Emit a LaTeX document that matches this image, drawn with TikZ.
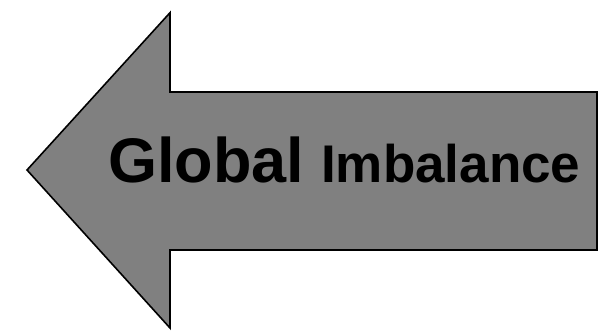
\documentclass[tikz,border=0pt]{standalone}
\usepackage{fontspec}
\setmainfont{Liberation Sans}
\usetikzlibrary{positioning}
\definecolor{arrowgray}{RGB}{128,128,128}
\tikzset{
    bigarrow/.style={draw=black, line width=1.6pt, fill=arrowgray, line join=miter},
    word/.style={inner sep=0pt, anchor=base west, font=\bfseries}
}

\begin{document}
\begin{tikzpicture}[x=1pt, y=1pt]
        \useasboundingbox (0, 0) rectangle (602, 331);
        \draw[bigarrow] (27, 161) -- (170, 318.3) -- (170, 239) -- (597, 239)
            -- (597, 81) -- (170, 81) -- (170, 3) -- cycle;

        \node[word] at (108, 148.7)(global){\fontsize{63}{63}\selectfont Global};
        \node[word] at (321, 148.7)(imbalance){\fontsize{53}{53}\selectfont Imbalance};
    \end{tikzpicture}
\end{document}
